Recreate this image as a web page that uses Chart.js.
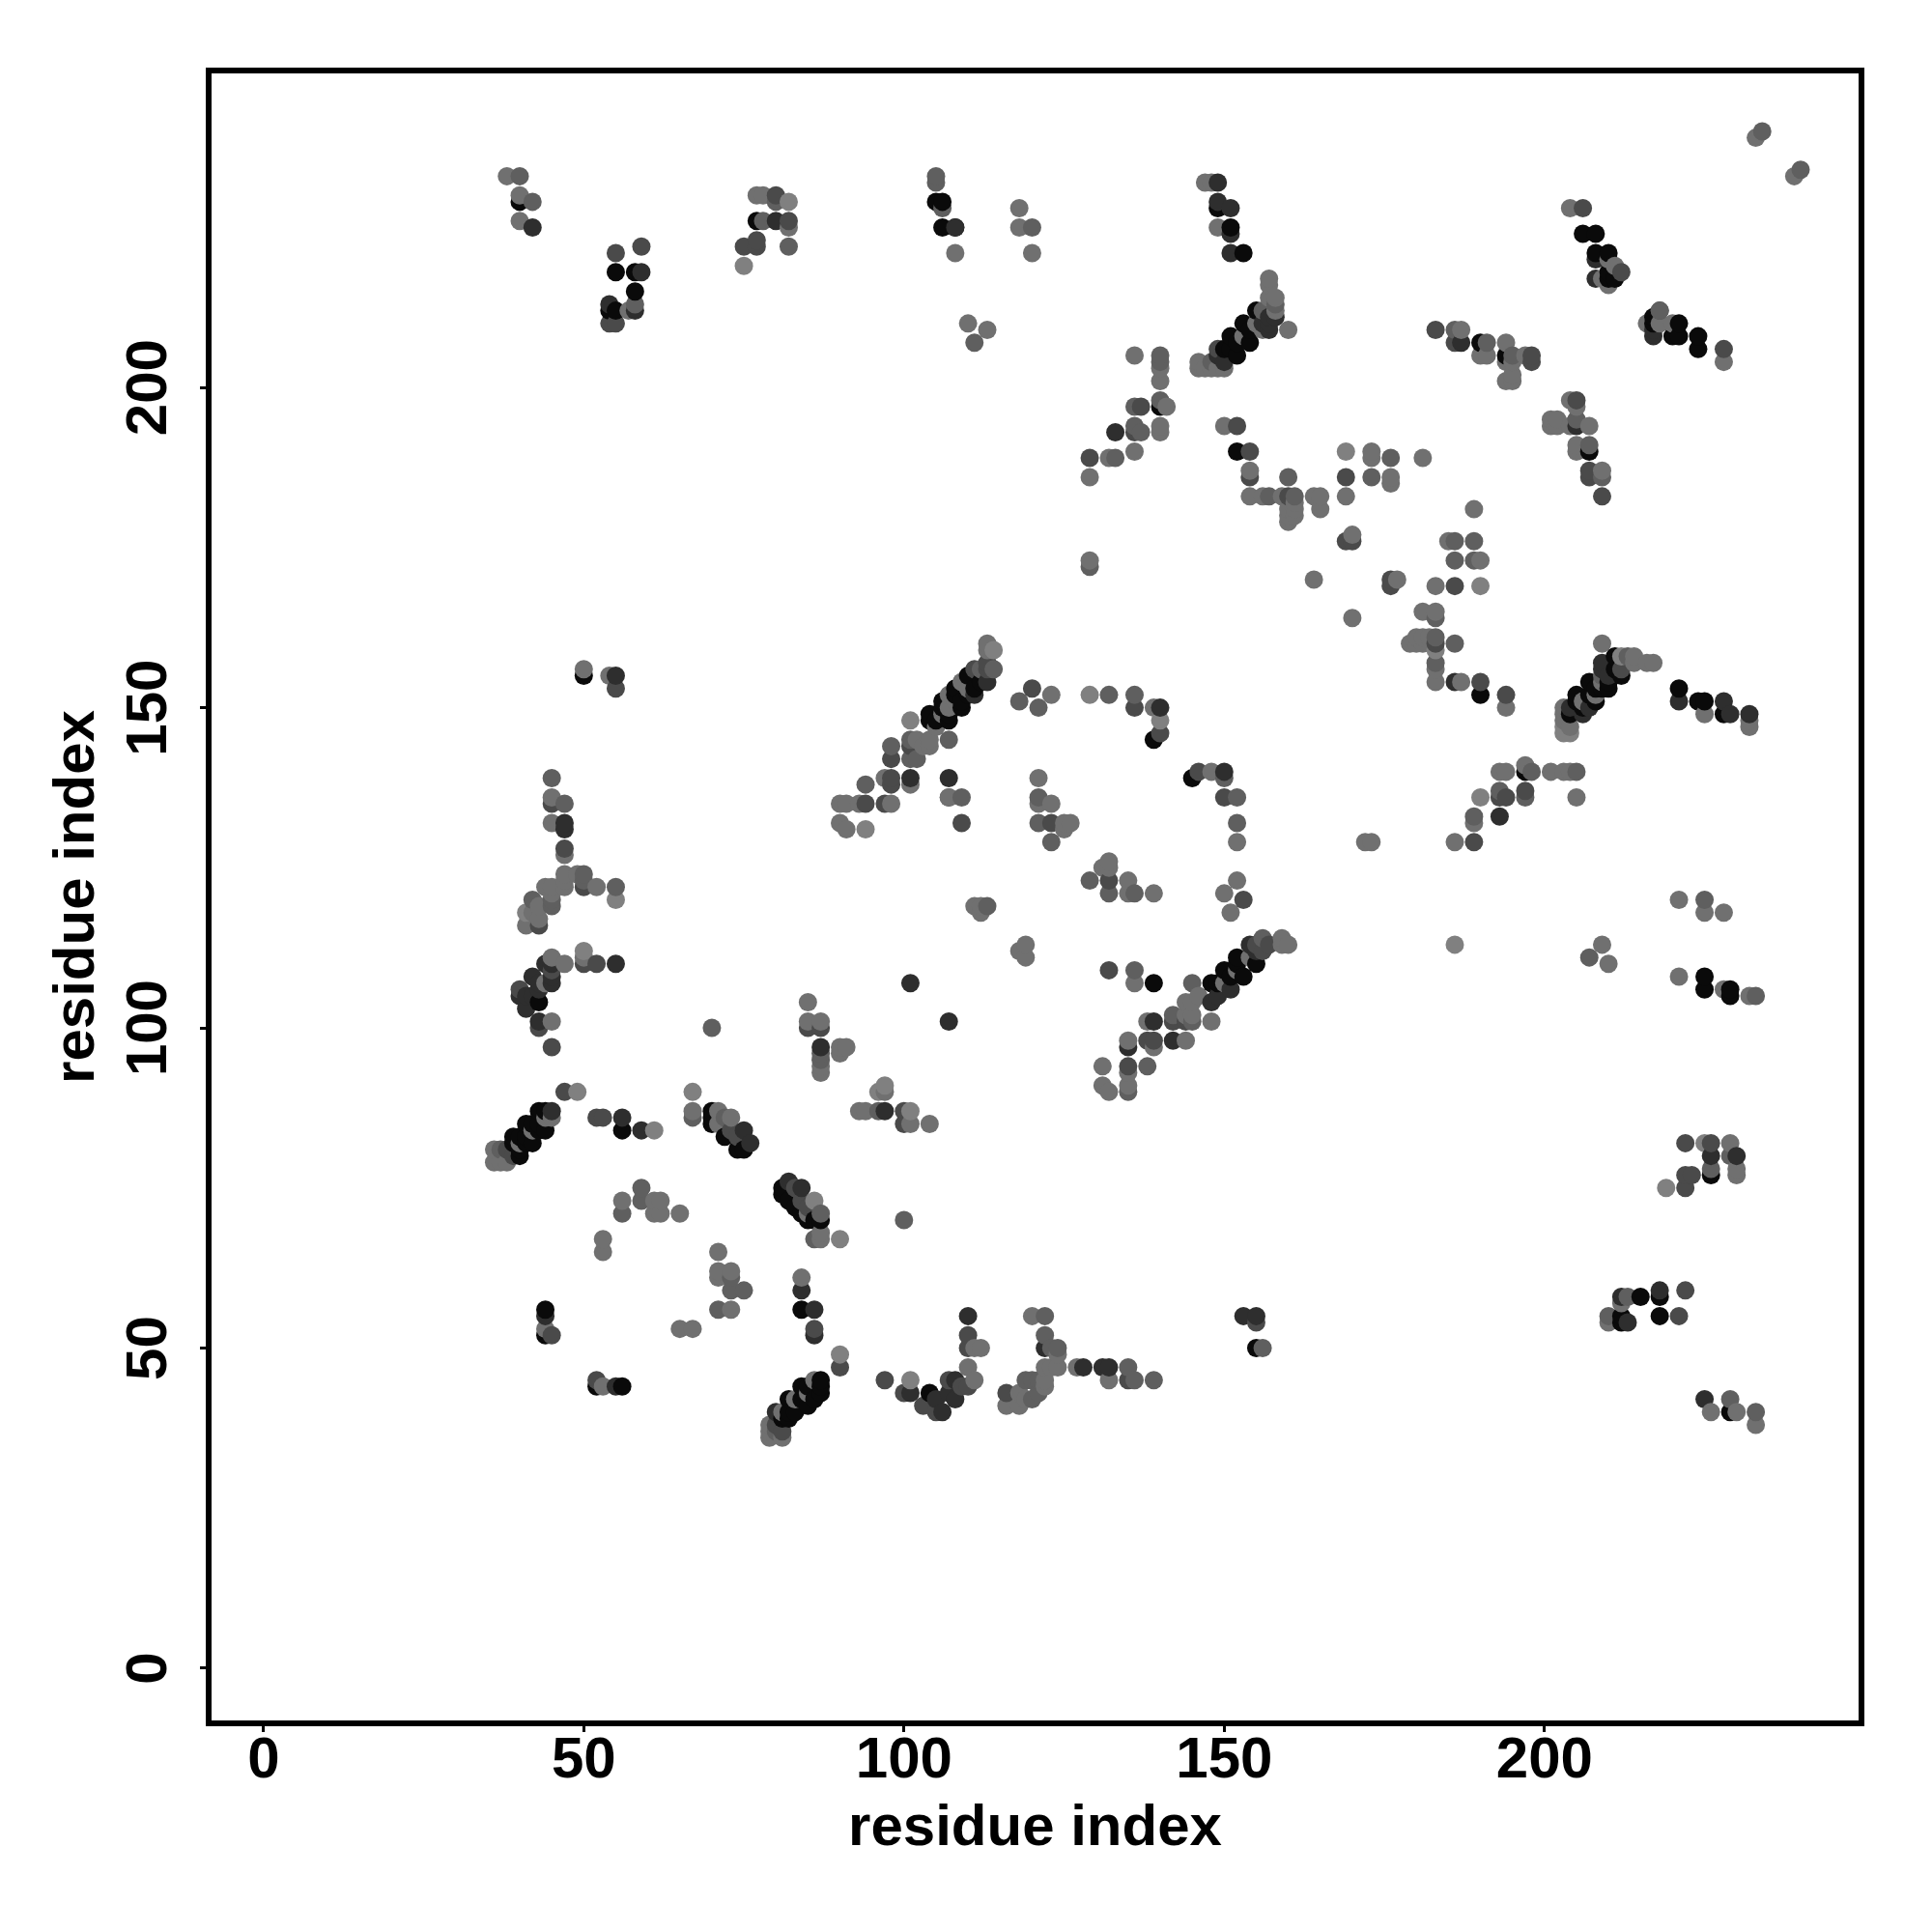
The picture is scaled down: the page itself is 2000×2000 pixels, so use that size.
<!DOCTYPE html>
<html>
<head>
<meta charset="utf-8">
<style>body{margin:0;background:#fff}</style>
<script src="https://cdn.jsdelivr.net/npm/chart.js@4"></script>
</head>
<body>
<canvas id="chart-canvas" width="2000" height="2000"></canvas>
<script>
// contacts, one list per grey level: [x, y]
const contactsA = [[56,84],[70,85],[70,86],[70,87],[72,83],[74,81],[75,81],[81,74],[81,75],[82,73],[83,72],[84,71],[85,70],[86,70],[87,70],
[84,56],[44,56],[44,52],[52,44],[56,44],[87,45],[87,44],[87,43],[84,44],[85,44],[85,41],[86,42],[82,42],[84,42],[83,40],[82,40],[81,39],[82,39],
[39,83],[39,82],[40,83],[40,81],[40,80],[41,85],[41,83],[41,82],[42,85],[42,82],[43,87],[43,85],[43,84],[44,87],[44,84],[104,43],[155,50],
[226,77],[218,58],[215,58],[212,55],[212,54],[218,55],[229,40],[50,155],[43,104],[110,155],[108,153],[109,150],[106,151],[107,148],[104,149],[104,148],
[112,154],[111,153],[110,152],[108,152],[109,151],[106,150],[107,149],[105,148],[139,145],[145,139],[139,107],[155,110],[152,111],[153,108],[150,109],
[148,107],[152,110],[151,108],[149,107],[190,152],[211,158],[211,156],[212,155],[207,154],[210,153],[205,152],[208,151],[206,150],[204,149],[209,153],
[207,152],[205,151],[210,154],[208,153],[221,153],[224,151],[225,151],[228,149],[197,140],[225,108],[225,106],[229,106],[229,105],[155,212],[153,210],
[151,208],[154,207],[152,205],[154,209],[152,207],[151,206],[150,206],[140,197],[152,190],[190,207],[194,205],[206,224],[208,224],[208,221],[210,221],
[210,218],[210,217],[211,217],[217,211],[217,210],[220,208],[221,210],[221,208],[224,208],[224,206],[207,190],[40,229],[55,218],[58,218],[58,215],
[54,212],[55,212],[77,226],[105,229],[106,229],[106,225],[108,225],[149,228],[151,225],[153,221]];

const contactsB = [[56,86],[59,84],[75,84],[76,82],[97,87],[82,76],[84,75],[84,59],[86,56],[86,52],[44,55],[55,44],[80,40],[101,43],[106,40],[45,87],
[110,55],[108,45],[108,42],[105,42],[107,43],[122,50],[128,47],[131,47],[132,47],[153,55],[155,55],[226,80],[230,80],[218,59],[212,58],[213,54],[225,42],
[55,155],[47,132],[47,131],[55,110],[44,110],[45,110],[45,108],[45,107],[42,108],[43,107],[43,106],[40,105],[41,105],[42,105],[41,103],[43,101],[87,97],
[101,139],[107,139],[101,107],[107,101],[113,154],[111,152],[140,150],[150,140],[154,113],[151,106],[149,105],[148,104],[155,112],[139,101],[135,97],[142,98],
[186,154],[209,157],[209,156],[206,149],[204,150],[210,155],[207,150],[221,151],[228,151],[229,149],[232,149],[193,133],[157,211],[158,211],[157,209],[150,204],
[149,205],[156,210],[157,210],[133,193],[187,207],[208,220],[208,217],[217,209],[217,208],[205,194],[42,225],[59,218],[54,213],[58,212],[80,226],[108,225],
[149,232],[149,229],[151,228],[151,224],[151,221]];

const contactsC = [[47,90],[52,86],[53,86],[73,84],[74,83],[83,75],[84,73],[85,72],[86,53],[90,47],[45,52],[52,45],[81,37],[80,38],[38,81],[39,80],[97,45],
[100,87],[100,85],[100,43],[103,41],[105,40],[135,94],[110,52],[110,50],[110,44],[107,45],[109,44],[135,45],[116,43],[155,54],[222,82],[226,82],[222,77],[223,77],
[222,75],[222,59],[221,55],[55,153],[45,135],[47,128],[50,122],[43,116],[50,110],[52,110],[45,109],[40,106],[43,100],[45,97],[85,100],[87,100],[98,142],[101,144],
[98,139],[98,138],[94,135],[97,135],[109,132],[113,157],[113,156],[111,156],[120,153],[136,150],[140,146],[146,140],[150,136],[123,132],[132,123],[153,120],[132,109],
[157,113],[156,112],[155,113],[144,101],[142,101],[138,98],[139,98],[183,160],[190,154],[194,152],[212,156],[193,136],[194,136],[197,137],[189,129],[149,206],
[137,197],[136,193],[129,189],[152,194],[154,190],[154,186],[160,183],[169,186],[169,176],[170,176],[176,170],[176,169],[186,169],[183,209],[186,207],[198,205],
[198,204],[206,228],[212,218],[218,212],[228,206],[205,198],[207,187],[207,186],[209,183],[55,221],[59,222],[54,210],[55,210],[80,230],[82,226],[75,222],[77,223],[77,222]];

const contactsD = [[67,86],[72,86],[96,87],[59,75],[59,73],[56,71],[87,71],[86,67],[73,61],[73,59],[75,59],[71,56],[100,70],[80,37],[37,81],[138,94],[135,90],
[122,55],[122,52],[123,50],[124,50],[135,47],[136,45],[139,45],[119,45],[120,45],[121,45],[120,42],[121,43],[156,50],[229,80],[226,78],[213,58],[210,55],[229,42],[233,40],
[45,139],[47,135],[50,124],[50,123],[55,122],[45,120],[45,119],[42,120],[70,100],[87,96],[87,95],[98,144],[101,145],[101,142],[102,142],[94,138],[107,136],[109,136],
[114,156],[112,156],[107,145],[118,151],[121,150],[132,152],[136,152],[150,139],[152,136],[152,132],[121,136],[121,132],[123,129],[129,123],[132,121],[136,121],[113,119],
[136,109],[156,114],[145,107],[142,102],[145,101],[183,161],[183,157],[186,160],[213,158],[209,155],[198,140],[205,140],[193,137],[197,136],[189,133],[207,111],[225,120],
[233,105],[158,213],[156,212],[148,204],[140,205],[140,204],[136,197],[140,198],[136,194],[137,193],[133,189],[129,172],[157,183],[161,183],[160,186],[176,189],[173,186],
[186,176],[189,176],[186,173],[189,173],[183,164],[186,209],[191,207],[195,205],[234,240],[240,234],[218,212],[205,195],[207,191],[209,186],[40,233],[42,229],[58,213],
[78,226],[82,222],[105,233],[105,232],[106,228],[120,225],[111,207],[80,229]];

const contactsE = [[67,87],[71,87],[71,85],[73,86],[93,87],[94,87],[97,90],[101,85],[104,85],[87,93],[87,94],[56,73],[61,73],[62,73],[61,71],[62,71],[65,71],[85,71],[87,67],[87,68],
[53,67],[53,65],[71,65],[71,62],[71,61],[73,62],[73,56],[65,53],[67,53],[84,61],[44,53],[53,44],[86,45],[83,42],[81,40],[85,43],[79,38],[79,36],[81,36],[79,37],
[36,81],[36,79],[37,79],[38,79],[40,82],[42,84],[44,86],[45,86],[131,94],[135,93],[131,91],[132,90],[135,91],[111,50],[112,50],[110,47],[111,45],
[120,55],[124,49],[122,47],[123,47],[124,47],[127,47],[132,45],[122,45],[122,44],[118,43],[119,42],[116,41],[118,41],[229,82],[230,78],[230,77],[212,57],[210,54],[226,40],[230,40],[233,38],
[50,156],[54,155],[45,136],[45,132],[47,127],[47,124],[47,123],[47,122],[49,124],[52,122],[44,122],[45,122],[45,121],[43,119],[42,118],[41,116],[43,117],[50,111],[47,110],[45,111],[44,107],[45,101],
[85,104],[85,101],[87,101],[90,97],[91,97],[90,96],[102,145],[104,145],[104,144],[103,144],[97,139],[101,138],[90,135],[91,135],[93,135],[98,135],[90,132],[91,131],[107,136],
[113,160],[113,159],[109,154],[110,153],[107,152],[108,151],[106,149],[107,150],[105,147],[123,152],[139,150],[148,140],[152,129],[121,139],[121,135],[123,135],[125,132],[125,131],[126,132],
[132,126],[131,125],[132,125],[135,123],[135,121],[139,121],[152,123],[150,121],[151,118],[172,129],[173,129],[111,119],[112,118],[112,119],[118,112],[119,113],[119,111],[136,107],
[159,114],[159,113],[160,113],[154,111],[152,109],[150,107],[146,105],[144,104],[145,104],[145,102],[144,102],[148,101],[138,101],[135,98],[139,97],[144,98],
[179,160],[180,161],[181,161],[182,161],[180,160],[181,160],[183,156],[183,154],[187,154],[194,150],[209,160],[214,158],[214,157],[216,157],[217,157],[203,150],[203,149],[203,148],[204,147],[208,152],[206,151],[209,154],
[225,149],[232,147],[232,148],[193,140],[194,140],[197,141],[201,140],[203,140],[204,140],[205,136],[189,132],[186,129],[209,113],[210,110],[221,120],[225,118],[228,118],[221,108],[228,106],[232,105],
[157,217],[157,216],[157,214],[158,214],[158,212],[156,209],[160,209],[155,210],[153,208],[146,204],[146,203],[147,203],[148,203],[149,203],[150,203],[136,205],[140,203],[140,201],[141,197],[140,194],[140,193],[136,190],[132,189],[129,186],[129,173],
[150,194],[154,187],[154,183],[156,183],[159,183],[161,182],[160,181],[161,181],[160,179],[160,180],[161,180],[164,183],[165,183],[165,181],[169,183],[173,190],[173,189],[176,186],[176,185],[181,189],[170,177],[164,170],[177,170],[183,169],[185,176],[190,173],[189,181],[170,164],[181,165],[183,165],
[187,209],[190,205],[191,205],[194,207],[194,204],[195,204],[197,205],[195,202],[194,201],[195,201],[233,239],[239,233],[204,228],[210,220],[211,219],[209,217],[210,216],[216,210],[218,210],[220,210],[228,204],
[204,198],[205,197],[201,195],[202,195],[201,194],[202,194],[204,194],[207,194],[205,191],[205,190],[209,187],[38,233],[40,230],[40,226],[57,212],[77,230],[78,230],[82,225],[118,225],[120,221],[108,221],[118,228],[110,210],[113,209],[147,232],[148,232],[149,225]];

const contactsF = [[49,90],[61,84],[67,90],[96,90],[97,91],[101,87],[86,73],[90,67],[90,49],[101,45],[225,82],[219,75],[41,118],[55,120],[50,112],[101,148],[94,131],[114,159],[129,152],[140,148],
[190,136],[186,113],[183,159],[212,158],[203,146],[204,146],[203,147],[169,190],[190,169],[82,229],[75,219]];

const greyLevels = ['#0a0a0a', '#2e2e2e', '#4a4a4a', '#5f5f5f', '#707070', '#808080'];
const xTickValues = [0, 50, 100, 150, 200];
const yTickValues = [0, 50, 100, 150, 200];
const axisLabel = 'residue index';
const labelFont = 'bold 60px "Liberation Sans"';

// the original plots in order of x then y, so later dots sit on top
const points = [contactsA, contactsB, contactsC, contactsD, contactsE, contactsF]
  .flatMap((list, level) => list.map(p => ({ x: p[0], y: p[1], level })))
  .sort((a, b) => a.x - b.x || a.y - b.y);

const frameAndLabels = {
  id: 'frameAndLabels',
  afterDraw(chart) {
    const c = chart.ctx, area = chart.chartArea;
    c.save();
    c.strokeStyle = '#000';
    c.lineWidth = 6;
    c.lineCap = 'square';
    c.strokeRect(area.left, area.top, area.right - area.left, area.bottom - area.top);
    // chart.js has no rotated tick labels on a y axis
    c.fillStyle = '#000';
    c.font = labelFont;
    c.textAlign = 'center';
    c.textBaseline = 'alphabetic';
    yTickValues.forEach(v => {
      c.save();
      c.translate(172, chart.scales.y.getPixelForValue(v));
      c.rotate(-Math.PI / 2);
      c.fillText(String(v), 0, 0);
      c.restore();
    });
    c.restore();
  }
};

const sharedGrid = { drawOnChartArea: false, drawTicks: true, tickLength: 9, tickWidth: 3, tickColor: '#000' };

new Chart(document.getElementById('chart-canvas'), {
  type: 'scatter',
  data: {
    datasets: [{
      data: points,
      backgroundColor: points.map(p => greyLevels[p.level]),
      borderWidth: 0,
      pointRadius: 9.5,
      pointHoverRadius: 9.5
    }]
  },
  options: {
    responsive: false,
    animation: false,
    layout: { autoPadding: false, padding: { top: 73, right: 73, left: 0, bottom: 0 } },
    plugins: { legend: { display: false }, tooltip: { enabled: false } },
    scales: {
      x: {
        type: 'linear',
        min: -8.57,
        max: 249.5,
        afterFit: s => { s.height = 216; },
        afterBuildTicks: s => { s.ticks = xTickValues.map(value => ({ value })); },
        border: { display: false },
        grid: sharedGrid,
        ticks: { color: '#000', maxRotation: 0, autoSkip: false, padding: -6, font: { family: 'Liberation Sans', weight: 'bold', size: 60 } },
        title: { display: true, text: axisLabel, color: '#000', padding: { top: 0, bottom: 71 }, font: { family: 'Liberation Sans', weight: 'bold', size: 60 } }
      },
      y: {
        type: 'linear',
        min: -8.6,
        max: 249.5,
        afterFit: s => { s.width = 216; },
        afterBuildTicks: s => { s.ticks = yTickValues.map(value => ({ value })); },
        border: { display: false },
        grid: sharedGrid,
        ticks: { display: false },
        title: { display: true, text: axisLabel, color: '#000', padding: { top: 44, bottom: 0 }, font: { family: 'Liberation Sans', weight: 'bold', size: 60 } }
      }
    }
  },
  plugins: [frameAndLabels]
});
</script>
</body>
</html>
